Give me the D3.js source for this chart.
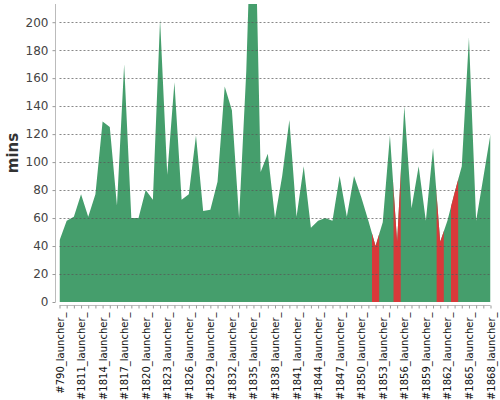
<!DOCTYPE html>
<html>
<head>
<meta charset="utf-8">
<script src="https://cdn.jsdelivr.net/npm/d3@7"></script>
<style>
  body { margin: 0; background: #fff; }
  svg { display: block; font-family: "DejaVu Sans", sans-serif; }
</style>
</head>
<body>
<svg id="chart" width="500" height="400"></svg>
<script>
const builds = [
  "#790_launcher_", "#1809_launcher_", "#1810_launcher_", "#1811_launcher_", "#1812_launcher_",
  "#1813_launcher_", "#1814_launcher_", "#1815_launcher_", "#1816_launcher_", "#1817_launcher_",
  "#1818_launcher_", "#1819_launcher_", "#1820_launcher_", "#1821_launcher_", "#1822_launcher_",
  "#1823_launcher_", "#1824_launcher_", "#1825_launcher_", "#1826_launcher_", "#1827_launcher_",
  "#1828_launcher_", "#1829_launcher_", "#1830_launcher_", "#1831_launcher_", "#1832_launcher_",
  "#1833_launcher_", "#1834_launcher_", "#1835_launcher_", "#1836_launcher_", "#1837_launcher_",
  "#1838_launcher_", "#1839_launcher_", "#1840_launcher_", "#1841_launcher_", "#1842_launcher_",
  "#1843_launcher_", "#1844_launcher_", "#1845_launcher_", "#1846_launcher_", "#1847_launcher_",
  "#1848_launcher_", "#1849_launcher_", "#1850_launcher_", "#1851_launcher_", "#1852_launcher_",
  "#1853_launcher_", "#1854_launcher_", "#1855_launcher_", "#1856_launcher_", "#1857_launcher_",
  "#1858_launcher_", "#1859_launcher_", "#1860_launcher_", "#1861_launcher_", "#1862_launcher_",
  "#1863_launcher_", "#1864_launcher_", "#1865_launcher_", "#1866_launcher_", "#1867_launcher_",
  "#1868_launcher_"
];

// build duration in minutes
const mins = [
  44, 58, 61, 77, 61, 77, 129, 125, 69, 170,
  60, 60, 80, 73, 202, 91, 157, 73, 77, 119,
  65, 66, 86, 154, 137, 60, 165, 330, 93, 106,
  60, 90, 130, 61, 97, 53, 58, 60, 58, 90,
  61, 90, 75, 58, 40, 57, 119, 43, 140, 67,
  97, 58, 110, 43, 58, 78, 97, 189, 58, 89,
  120
];

const failed = ["#1852_launcher_", "#1855_launcher_", "#1861_launcher_", "#1863_launcher_"];

const yTicks = [0, 20, 40, 60, 80, 100, 120, 140, 160, 180, 200];

const svg = d3.select("#chart");
const plot = { left: 59.5, right: 490.5, top: 4, bottom: 302 };

const x = d3.scalePoint().domain(builds).range([plot.left, plot.right]);
const y = d3.scaleLinear().domain([0, 213]).range([plot.bottom, plot.top]);
const step = x.step();

const data = builds.map((b, i) => ({ build: b, value: mins[i] }));

const defs = svg.append("defs");
defs.append("clipPath").attr("id", "plot-clip")
  .append("rect")
  .attr("x", plot.left).attr("y", plot.top)
  .attr("width", plot.right - plot.left).attr("height", plot.bottom - plot.top);

// bands around each failed build
defs.append("clipPath").attr("id", "fail-clip")
  .selectAll("rect")
  .data(failed)
  .join("rect")
  .attr("x", d => x(d) - step / 2)
  .attr("y", plot.top)
  .attr("width", step)
  .attr("height", plot.bottom - plot.top);

const area = d3.area()
  .x(d => x(d.build))
  .y0(y(0))
  .y1(d => y(d.value));

const g = svg.append("g").attr("clip-path", "url(#plot-clip)");

g.append("path")
  .datum(data)
  .attr("fill", "#459e6c")
  .attr("d", area);

g.append("g").attr("clip-path", "url(#fail-clip)")
  .append("path")
  .datum(data)
  .attr("fill", "#d8393a")
  .attr("d", area);

// dashed grid on top of the area
svg.append("g")
  .selectAll("line")
  .data(yTicks.slice(1))
  .join("line")
  .attr("x1", plot.left).attr("x2", plot.right)
  .attr("y1", d => Math.round(y(d)) + 0.5).attr("y2", d => Math.round(y(d)) + 0.5)
  .attr("stroke", "#555")
  .attr("stroke-opacity", 0.7)
  .attr("stroke-dasharray", "2,2");

// y axis
const yAxis = svg.append("g")
  .attr("transform", "translate(55.5,0)")
  .call(d3.axisLeft(y).tickValues(yTicks).tickSize(3).tickPadding(4));
yAxis.select(".domain").attr("stroke", "#bbb").attr("d", `M0,${plot.top}V${plot.bottom}`);
yAxis.selectAll(".tick line").attr("stroke", "#999");
yAxis.selectAll(".tick text")
  .attr("fill", "#444")
  .style("font-size", "12px")
  .style("font-family", "DejaVu Sans");

// x axis
const xAxis = svg.append("g")
  .attr("transform", "translate(0,305.5)")
  .call(d3.axisBottom(x).tickSize(3).tickFormat((d, i) => i % 3 === 0 ? d : ""));
xAxis.select(".domain").attr("stroke", "#bbb").attr("d", `M${plot.left},0H${plot.right}`);
xAxis.selectAll(".tick line").attr("stroke", "#999");
xAxis.selectAll(".tick text")
  .attr("fill", "#111")
  .style("font-size", "10px")
  .style("font-family", "DejaVu Sans")
  .attr("text-anchor", "end")
  .attr("transform", "rotate(-90)")
  .attr("x", -7)
  .attr("y", 0)
  .attr("dy", "0.35em");

svg.append("text")
  .attr("transform", "translate(17.5,153) rotate(-90)")
  .attr("text-anchor", "middle")
  .attr("fill", "#333")
  .style("font-size", "15px")
  .style("font-weight", "bold")
  .text("mins");
</script>
</body>
</html>
